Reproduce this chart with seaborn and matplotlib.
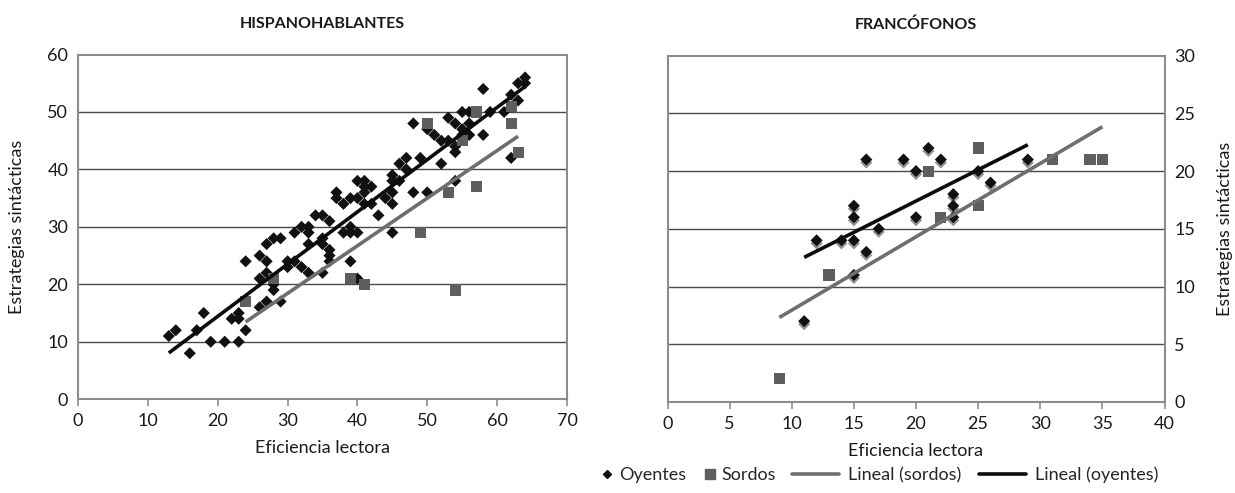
import matplotlib
matplotlib.use("Agg")
import matplotlib.pyplot as plt
import matplotlib.patheffects as pe
from matplotlib.lines import Line2D
import seaborn as sns

# ---------------- data ----------------
# HISPANOHABLANTES - oyentes (hearing)
es_oy_x = [13, 14, 16, 17, 18, 19, 21, 23, 22, 23, 23, 24, 24, 26, 26, 26, 27, 27, 27, 27,
           28, 29, 28, 28, 29, 30, 30, 31, 31, 32, 33, 33, 32, 33, 34, 35, 35, 35, 36, 36,
           36, 36, 33, 35, 38, 39, 39, 40, 39, 40, 37, 37, 38, 39, 40, 41, 41, 40, 41, 41,
           42, 42, 43, 44, 45, 45, 45, 45, 45, 46, 46, 47, 47, 48, 48, 49, 50, 50, 51, 52,
           52, 53, 53, 54, 54, 54, 54, 55, 56, 55, 55, 56, 56, 58, 58, 59, 61, 62, 62, 63,
           63, 64, 64]
es_oy_y = [11, 12, 8, 12, 15, 10, 10, 10, 14, 15, 14, 12, 24, 25, 21, 16, 27, 24, 22, 17,
           28, 28, 20, 19, 17, 24, 23, 29, 24, 30, 30, 29, 23, 22, 32, 32, 28, 27, 26, 25,
           24, 31, 27, 22, 29, 30, 29, 29, 24, 21, 36, 35, 34, 35, 38, 38, 37, 35, 36, 34,
           37, 34, 32, 35, 36, 34, 29, 39, 38, 38, 41, 42, 40, 48, 36, 42, 47, 36, 46, 45,
           41, 49, 45, 48, 44, 43, 38, 50, 50, 47, 46, 48, 46, 54, 46, 50, 50, 53, 42, 55,
           52, 56, 55]
# HISPANOHABLANTES - sordos (deaf)
es_so_x = [24, 28, 39, 41, 49, 50, 53, 54, 55, 57, 57, 62, 62, 63]
es_so_y = [17, 21, 21, 20, 29, 48, 36, 19, 45, 37, 50, 51, 48, 43]

# FRANCÓFONOS - oyentes
fr_oy_x = [11, 12, 14, 15, 15, 15, 15, 16, 16, 17, 19, 20, 20, 21, 22, 23, 23, 23, 25, 26, 29]
fr_oy_y = [7, 14, 14, 14, 11, 16, 17, 13, 21, 15, 21, 20, 16, 22, 21, 18, 17, 16, 20, 19, 21]
# FRANCÓFONOS - sordos
fr_so_x = [9, 13, 21, 22, 25, 25, 31, 34, 35]
fr_so_y = [2, 11, 20, 16, 22, 17, 21, 21, 21]

titles = ["HISPANOHABLANTES", "FRANCÓFONOS"]
xlabel = "Eficiencia lectora"
ylabel = "Estrategias sintácticas"
legend_labels = ["Oyentes", "Sordos", "Lineal (sordos)", "Lineal (oyentes)"]

# ---------------- style ----------------
sns.set_theme(style="white")
plt.rcParams["font.family"] = ["Lato", "DejaVu Sans"]

C_DIAM = "#111111"
C_SQ = "#5e5e5e"
C_LSO = "#6e6e6e"
C_LOY = "#0c0c0c"
C_GRID = "#4a4a4a"
C_SPINE = "#8c8c8c"
C_TXT = "#1a1a1a"
FS = 13

W, H = 1235, 493
fig = plt.figure(figsize=(W / 100, H / 100), dpi=100)
ax1 = fig.add_axes([78 / W, (H - 399.2) / H, (567 - 78) / W, (399.2 - 54.5) / H])
ax2 = fig.add_axes([667.5 / W, (H - 402) / H, (1164.5 - 667.5) / W, (402 - 55.6) / H])


def draw(ax, ox, oy, sx, sy, shadow=False):
    sc = sns.scatterplot(x=ox, y=oy, marker="D", s=38, color=C_DIAM, edgecolor="none",
                         ax=ax, zorder=3)
    if shadow:
        sc.collections[-1].set_path_effects(
            [pe.SimplePatchShadow(offset=(0, -2.2), shadow_rgbFace="#777777", alpha=0.8),
             pe.Normal()])
    sns.scatterplot(x=sx, y=sy, marker="s", s=64, color=C_SQ, edgecolor="none",
                    ax=ax, zorder=4)
    sns.regplot(x=sx, y=sy, scatter=False, ci=None, truncate=True, color=C_LSO,
                line_kws={"lw": 2.6, "zorder": 5, "solid_capstyle": "butt"}, ax=ax)
    sns.regplot(x=ox, y=oy, scatter=False, ci=None, truncate=True, color=C_LOY,
                line_kws={"lw": 2.6, "zorder": 6, "solid_capstyle": "butt"}, ax=ax)


draw(ax1, es_oy_x, es_oy_y, es_so_x, es_so_y)
draw(ax2, fr_oy_x, fr_oy_y, fr_so_x, fr_so_y, shadow=True)

ax1.set_xlim(0, 70)
ax1.set_ylim(0, 60)
ax1.set_xticks(range(0, 71, 10))
ax1.set_yticks(range(0, 61, 10))
ax2.set_xlim(0, 40)
ax2.set_ylim(0, 30)
ax2.set_xticks(range(0, 41, 5))
ax2.set_yticks(range(0, 31, 5))
ax2.yaxis.tick_right()
ax2.yaxis.set_label_position("right")

for ax, t in zip((ax1, ax2), titles):
    ax.grid(False)
    for v in ax.get_yticks()[1:-1]:
        ax.axhline(v, color=C_GRID, lw=1.0, zorder=1)
    for s in ax.spines.values():
        s.set_color(C_SPINE)
        s.set_linewidth(1.5)
        s.set_visible(True)
    ax.tick_params(axis="x", direction="out", length=5, width=1.2, color=C_SPINE,
                   labelsize=FS, pad=5, labelcolor=C_TXT, bottom=True)
    ax.tick_params(axis="y", length=0, labelsize=FS, pad=7, labelcolor=C_TXT)
    ax.set_xlabel(xlabel, fontsize=FS, labelpad=8, color=C_TXT)
    ax.set_title(t, fontsize=11.5, fontweight="bold", pad=19, color=C_TXT)

ax1.set_ylabel(ylabel, fontsize=FS, labelpad=16, color=C_TXT)
ax2.set_ylabel(ylabel, fontsize=FS, labelpad=16, color=C_TXT, rotation=90)

h_mark = [
    Line2D([], [], marker="D", color=C_DIAM, linestyle="none", markersize=4.5),
    Line2D([], [], marker="s", color=C_SQ, linestyle="none", markersize=6.5),
]
h_line = [
    Line2D([], [], color=C_LSO, lw=2.6),
    Line2D([], [], color=C_LOY, lw=2.6),
]
ly = 1 - 475 / H
fig.legend(h_mark, legend_labels[:2], loc="center left", bbox_to_anchor=(602 / W, ly),
           ncol=2, frameon=False, fontsize=FS, handlelength=0.6, handletextpad=0.35,
           columnspacing=1.0, borderpad=0, borderaxespad=0)
fig.legend(h_line, legend_labels[2:], loc="center left", bbox_to_anchor=(792 / W, ly),
           ncol=2, frameon=False, fontsize=FS, handlelength=2.6, handletextpad=0.5,
           columnspacing=1.0, borderpad=0, borderaxespad=0)

fig.savefig("out.png", dpi=100)
